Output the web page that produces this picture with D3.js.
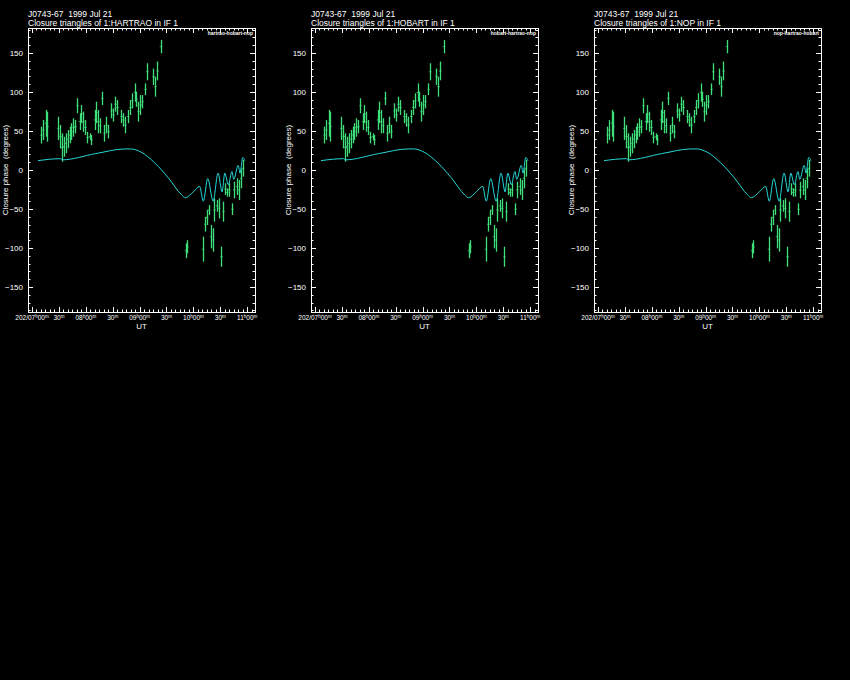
<!DOCTYPE html>
<html><head><meta charset="utf-8">
<script src="https://cdn.jsdelivr.net/npm/d3@7"></script>
<style>body{margin:0;background:#000}svg{display:block}</style>
</head><body>
<svg id="chart" width="850" height="680"></svg>
<script>
// ---- data ----
const sourceTitle = "J0743-67  1999 Jul 21";
const stations = ["HARTRAO", "HOBART", "NOP"];
const triangleLabels = ["hartrao-hobart-nop", "hobart-hartrao-nop", "nop-hartrao-hobart"];
const yTickValues = [-150, -100, -50, 0, 50, 100, 150];
// x tick labels every 30 min from 07h00m (day 202)
const xTickMinutes = [0, 30, 60, 90, 120, 150, 180, 210, 240];
const xTickLabels = [["202/07", "h", "00", "m"], ["30", "m"], ["08", "h", "00", "m"], ["30", "m"],
  ["09", "h", "00", "m"], ["30", "m"], ["10", "h", "00", "m"], ["30", "m"], ["11", "h", "00", "m"]];

// observed closure phases: time (minutes after 07h00m UT), low and high of error bar (deg)
const obsMinutes = [10.4, 12.3, 15.3, 17.1, 29, 31.6, 33.5, 35.4, 37.6, 39.8, 42, 43.8, 46.1, 48.3, 50.5,
  53.2, 55, 56.9, 59.4, 61.7, 64.3, 66.1, 69.9, 71.7, 73.6, 75.5, 78.1, 80.6, 82.9, 85.1, 88.4, 90.7,
  92.9, 95.1, 99.6, 101.8, 104, 107.1, 109.3, 111.5, 114.5, 116.3, 118.5, 120.8, 123, 126.4, 128.2,
  135.3, 137.5, 139.7, 143.5,
  171.4, 173.2, 190.4, 192.9, 194.8, 197.1, 199.3, 201.5, 203.3, 206, 208.5, 211.1, 213.3, 215.6,
  217.5, 219.7, 223.4, 225.3, 228.3, 230.5, 232.7, 235];
const obsLow = [34, 38.5, 42.7, 36.3, 38.5, 27.8, 10.6, 17, 21.4, 27.8, 34.2, 38.5, 42.7, 47, 72.7,
  51.3, 60, 49, 44.9, 34.2, 38.5, 32, 51.3, 60, 47, 47, 83.3, 36.3, 47, 40.6, 66.3, 62,
  74.7, 70.5, 60, 55.5, 47, 60, 70.5, 79, 87.6, 81, 62, 70.5, 79, 96, 115,
  109, 94, 115, 149.6,
  -113, -107, -117.5, -79, -70.5, -57.7, -100.4, -104.7, -66.3, -53.5, -62, -124, -66.3, -32,
  -34.2, -34.2, -57.7, -36.3, -32, -38.5, -23.5, -8.5];
const obsHigh = [55.5, 64, 77, 74.7, 68.3, 57.7, 47, 42.7, 47, 51.3, 55.5, 60, 66.3, 64, 92,
  72.7, 83.3, 74.7, 64, 49, 47, 44.9, 77, 87.6, 77, 66.3, 100.4, 57.7, 68.3, 57.7, 85.5, 79,
  94, 89.7, 77, 72.7, 68.3, 77, 89.7, 98.3, 111, 100.4, 87.6, 96, 96, 111, 136.8,
  130, 119.6, 139, 166.7,
  -94, -90, -85.5, -60, -51, -45, -70.5, -74.7, -36.3, -38.5, -36.3, -98.3, -40.6, -17,
  -23.5, -17, -42.7, -15, -10.6, -12.8, 2, 12.8];

// model closure phase
const modelMinutes = [6.7, 32, 33.5, 71, 104, 110, 121.5, 137, 152, 167, 171, 180, 187, 191, 196,
  202, 207.5, 212, 215, 219, 223, 225, 230, 232, 235, 237.5];
const modelPhase = [12, 14.5, 13, 21, 27, 27, 23, 9, -10, -32, -35.5, -28, -21, -40, -11,
  -40, -4, -28, -4, -19, -2, -12, 6, -4, 16, 12];

// ---- drawing ----
const svg = d3.select("#chart");
svg.append("rect").attr("width", 850).attr("height", 680).attr("fill", "#000");

const panelLefts = [28, 311, 594];
const pw = 227, plotTop = 28, plotBottom = 312;
const font = "Liberation Sans, Arial, sans-serif";
const green = "#3fe07c", cyan = "#26d6d6";

const obs = obsMinutes.map((t, i) => ({t, lo: obsLow[i], hi: obsHigh[i]}));
const model = modelMinutes.map((t, i) => ({t, p: modelPhase[i]}));

stations.forEach((st, k) => {
  const x0 = panelLefts[k];
  const g = svg.append("g");
  const x = d3.scaleLinear().domain([-4.46, 248.7]).range([x0, x0 + pw]);
  const y = d3.scaleLinear().domain([-182, 182]).range([plotBottom, plotTop]);

  // titles
  g.append("text").attr("x", x0).attr("y", 17).attr("fill", "#fff")
    .attr("font-family", font).attr("font-size", 8.5).style("white-space", "pre").text(sourceTitle);
  g.append("text").attr("x", x0).attr("y", 26).attr("fill", "#fff")
    .attr("font-family", font).attr("font-size", 8.5).text("Closure triangles of 1:" + st + " in IF 1");

  // frame
  g.append("rect").attr("x", x0 + 0.5).attr("y", plotTop + 0.5).attr("width", pw).attr("height", plotBottom - plotTop)
    .attr("fill", "none").attr("stroke", "#fff").attr("stroke-width", 1);

  // y ticks (inward, both sides)
  d3.range(-180, 181, 10).forEach(v => {
    const len = v % 50 === 0 ? 5 : 2.5;
    const yy = Math.round(y(v)) + 0.5;
    g.append("line").attr("x1", x0).attr("x2", x0 + len).attr("y1", yy).attr("y2", yy).attr("stroke", "#fff");
    g.append("line").attr("x1", x0 + pw).attr("x2", x0 + pw - len).attr("y1", yy).attr("y2", yy).attr("stroke", "#fff");
  });
  yTickValues.forEach(v => {
    g.append("text").attr("x", x0 - 5).attr("y", y(v) + 3).attr("text-anchor", "end")
      .attr("fill", "#fff").attr("font-family", font).attr("font-size", 8)
      .text(v < 0 ? "\u2212" + Math.abs(v) : String(v));
  });

  // x ticks (inward, top and bottom)
  d3.range(0, 246, 5).forEach(m => {
    const len = m % 30 === 0 ? 5 : 2.5;
    const xx = Math.round(x(m)) + 0.5;
    g.append("line").attr("x1", xx).attr("x2", xx).attr("y1", plotBottom).attr("y2", plotBottom - len).attr("stroke", "#fff");
    g.append("line").attr("x1", xx).attr("x2", xx).attr("y1", plotTop).attr("y2", plotTop + len).attr("stroke", "#fff");
  });
  xTickMinutes.forEach((m, i) => {
    const parts = xTickLabels[i];
    const t = g.append("text").attr("x", x(m)).attr("y", 320).attr("text-anchor", "middle")
      .attr("fill", "#fff").attr("font-family", font).attr("font-size", 6.5);
    parts.forEach((p, j) => {
      const sup = j % 2 === 1;
      t.append("tspan").attr("font-size", sup ? 4.5 : 6.5).attr("dy", sup ? -2.5 : (j > 0 ? 2.5 : 0)).text(p);
    });
  });

  // axis labels
  g.append("text").attr("x", x0 + pw / 2).attr("y", 329).attr("text-anchor", "middle")
    .attr("fill", "#fff").attr("font-family", font).attr("font-size", 8).text("UT");
  g.append("text").attr("transform", `translate(${x0 - 20},${(plotTop + plotBottom) / 2}) rotate(-90)`)
    .attr("text-anchor", "middle").attr("fill", "#fff").attr("font-family", font).attr("font-size", 8)
    .style("white-space", "pre").text("Closure phase  (degrees)");

  // triangle label
  g.append("text").attr("x", x0 + pw - 2).attr("y", 35).attr("text-anchor", "end")
    .attr("fill", "#fff").attr("font-family", font).attr("font-size", 5).attr("font-weight", "bold")
    .text(triangleLabels[k]);

  // observed error bars
  g.append("g").selectAll("line").data(obs).join("line")
    .attr("x1", d => Math.round(x(d.t)) + 0.5).attr("x2", d => Math.round(x(d.t)) + 0.5)
    .attr("y1", d => y(d.hi)).attr("y2", d => y(d.lo))
    .attr("stroke", green).attr("stroke-width", 1.3);
  g.append("g").selectAll("line").data(obs).join("line")
    .attr("x1", d => x(d.t) - 1).attr("x2", d => x(d.t) + 1.5)
    .attr("y1", d => y((d.hi + d.lo) / 2)).attr("y2", d => y((d.hi + d.lo) / 2))
    .attr("stroke", green).attr("stroke-width", 0.7);

  // model line
  g.append("path").datum(model)
    .attr("d", d3.line().curve(d3.curveMonotoneX).x(d => x(d.t)).y(d => y(d.p)))
    .attr("fill", "none").attr("stroke", cyan).attr("stroke-width", 1);
});
</script>
</body></html>
